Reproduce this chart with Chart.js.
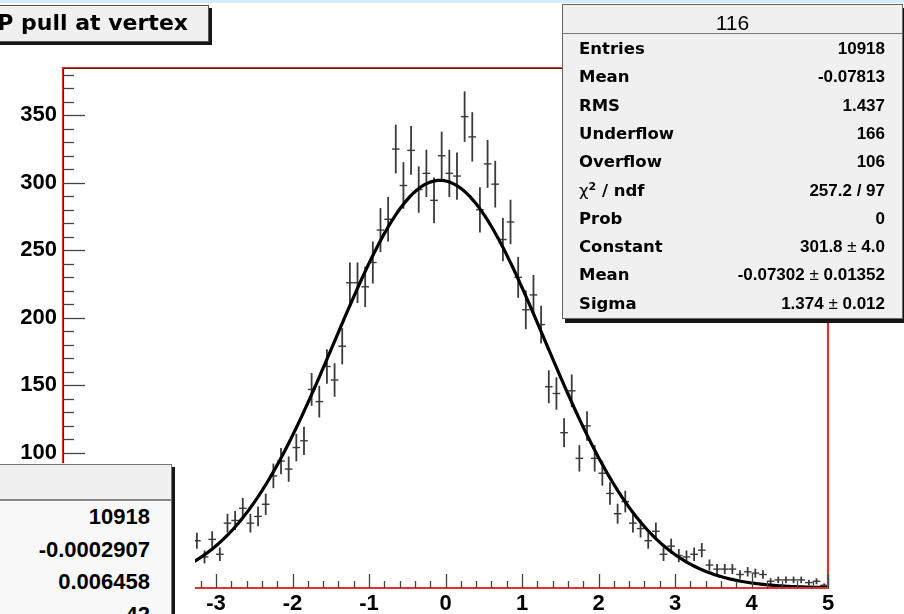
<!DOCTYPE html>
<html>
<head>
<meta charset="utf-8">
<script src="https://cdn.jsdelivr.net/npm/chart.js@4.4.1/dist/chart.umd.min.js"></script>
<style>
html,body{margin:0;padding:0;background:#fff;}
#wrap{position:relative;width:904px;height:614px;overflow:hidden;background:#fff;}
#c{position:absolute;left:0;top:0;}
.ov{position:absolute;box-sizing:border-box;}
#band{left:0;top:0;width:904px;height:3px;background:#d6eaf8;}
#title{left:-12px;top:5px;width:221px;height:37px;background:#f0f0f0;border:1px solid #555;
  box-shadow:3px 3px 0 #151515;font:bold 22px "DejaVu Sans",sans-serif;color:#000;
  text-align:right;padding-right:20px;line-height:33px;white-space:nowrap;}
#stats{left:562px;top:4px;width:341px;height:315px;background:#f0f0f0;border:1px solid #666;
  box-shadow:3px 4px 0 #151515;}
#stats .hdr{position:absolute;left:0;right:0;top:6px;height:24px;text-align:center;
  font:21px "Liberation Sans",Arial,sans-serif;line-height:24px;color:#000;}
#stats .sep{position:absolute;left:0;right:0;top:28px;height:0;border-top:1.5px solid #777;}
.row{position:absolute;height:20px;line-height:20px;color:#000;white-space:nowrap;}
#stats .row{left:16px;right:17px;}
.lab{position:absolute;left:0;top:0;font:bold 16.5px "DejaVu Sans",sans-serif;}
.val{position:absolute;right:0;top:0;font:bold 17px "Liberation Sans",Arial,sans-serif;}
.pm{font-weight:normal;}
.chi{font-weight:normal;font-family:"DejaVu Sans",sans-serif;}
.lab sup{font-size:11px;line-height:0;}
#mask{left:0;top:463px;width:195px;height:151px;background:#fff;}
#stats2{left:-3px;top:464px;width:175px;height:200px;background:#f8f8f8;border:1px solid #777;
  box-shadow:3px 3px 0 #151515;}
#stats2 .hdr{position:absolute;left:0;right:0;top:0;height:34px;background:#f0f0f0;border-bottom:2px solid #888;}
#stats2 .row{left:0;right:21px;height:24px;line-height:24px;}
#stats2 .val{font-size:22px;}
</style>
</head>
<body>
<div id="wrap">
  <canvas id="c" width="904" height="614"></canvas>
  <div class="ov" id="band"></div>
  <div class="ov" id="title">P pull at vertex</div>
  <div class="ov" id="stats"><div class="hdr">116</div><div class="sep"></div></div>
  <div class="ov" id="mask"></div>
  <div class="ov" id="stats2"><div class="hdr"></div></div>
</div>
<script>
// Histogram contents: bin centres (width 0.1) and entries per bin
const binCenters = [
  -3.25,-3.15,-3.05,-2.95,-2.85,-2.75,-2.65,-2.55,-2.45,-2.35,
  -2.25,-2.15,-2.05,-1.95,-1.85,-1.75,-1.65,-1.55,-1.45,-1.35,
  -1.25,-1.15,-1.05,-0.95,-0.85,-0.75,-0.65,-0.55,-0.45,-0.35,
  -0.25,-0.15,-0.05, 0.05, 0.15, 0.25, 0.35, 0.45, 0.55, 0.65,
   0.75, 0.85, 0.95, 1.05, 1.15, 1.25, 1.35, 1.45, 1.55, 1.65,
   1.75, 1.85, 1.95, 2.05, 2.15, 2.25, 2.35, 2.45, 2.55, 2.65,
   2.75, 2.85, 2.95, 3.05, 3.15, 3.25, 3.35, 3.45, 3.55, 3.65,
   3.75, 3.85, 3.95, 4.05, 4.15, 4.25, 4.35, 4.45, 4.55, 4.65,
   4.75, 4.85, 4.95
];
const counts = [
   35, 23, 36, 25, 48, 50, 59, 48, 53, 62,
   83, 94, 88,104,109,147,138,164,154,179,
  226,226,223,241,265,273,325,298,324,295,
  307,287,320,307,305,349,334,280,314,299,
  258,271,230,206,217,195,149,144,115,146,
   96,120, 96, 85, 70, 55, 64, 48, 44, 35,
   42, 25, 31, 24, 23, 25, 28, 17, 14, 14,
   14, 10, 12, 11, 10,  5,  6,  6,  6,  6,
    4,  5,  2
];
const binWidth = 0.1;

// Gaussian fit result
const fitConstant = 301.8, fitConstantErr = '4.0';
const fitMean = -0.07302, fitMeanErr = '0.01352';
const fitSigma = 1.374, fitSigmaErr = '0.012';

// Axis ranges and tick steps
const xRange = [-5, 5];
const yRange = [0, 385];
const xMajorStep = 1, xMinorStep = 0.2;
const yMajorStep = 50, yMinorStep = 10;

// Statistics boxes
const statLabels = ['Entries','Mean','RMS','Underflow','Overflow','chi2','Prob','Constant','Mean','Sigma'];
const statValues = ['10918','-0.07813','1.437','166','106','257.2 / 97','0',
  fitConstant.toFixed(1) + ' \u00b1 ' + fitConstantErr,
  fitMean.toFixed(5) + ' \u00b1 ' + fitMeanErr,
  fitSigma.toFixed(3) + ' \u00b1 ' + fitSigmaErr];
const otherStatValues = ['10918','-0.0002907','0.006458','42'];

function fillStats() {
  const box = document.getElementById('stats');
  statLabels.forEach((lab, i) => {
    const row = document.createElement('div');
    row.className = 'row';
    row.style.top = (34 + i * 28.3) + 'px';
    const l = document.createElement('span');
    l.className = 'lab';
    if (lab === 'chi2') l.innerHTML = '<span class="chi">\u03c7</span><sup>2</sup> / ndf';
    else l.textContent = lab;
    const v = document.createElement('span');
    v.className = 'val';
    v.innerHTML = statValues[i].replace('\u00b1', '<span class="pm">\u00b1</span>');
    row.appendChild(l); row.appendChild(v);
    box.appendChild(row);
  });
  const box2 = document.getElementById('stats2');
  otherStatValues.forEach((val, i) => {
    const row = document.createElement('div');
    row.className = 'row';
    row.style.top = (39 + i * 32.7) + 'px';
    const v = document.createElement('span');
    v.className = 'val';
    v.textContent = val;
    row.appendChild(v);
    box2.appendChild(row);
  });
}
fillStats();

const histPoints = binCenters.map((x, i) => ({x: x, y: counts[i]}));
const fitPoints = [];
for (let i = 0; i <= 500; i++) {
  const x = xRange[0] + (xRange[1] - xRange[0]) * i / 500;
  const z = (x - fitMean) / fitSigma;
  fitPoints.push({x: x, y: fitConstant * Math.exp(-0.5 * z * z)});
}

// Error bars (sqrt(N)) and bin-width markers, under the fit curve
const errorBars = {
  id: 'errorBars',
  beforeDatasetsDraw(chart) {
    const {ctx, scales: {x, y}, chartArea: a} = chart;
    ctx.save();
    ctx.beginPath(); ctx.rect(a.left, a.top, a.right - a.left, a.bottom - a.top); ctx.clip();
    ctx.strokeStyle = '#3a3a3a';
    histPoints.forEach(p => {
      const e = Math.sqrt(p.y);
      const px = x.getPixelForValue(p.x);
      ctx.lineWidth = 1.8;
      ctx.beginPath();
      ctx.moveTo(px, y.getPixelForValue(p.y - e));
      ctx.lineTo(px, y.getPixelForValue(p.y + e));
      ctx.stroke();
      const py = y.getPixelForValue(p.y);
      ctx.lineWidth = 1.4;
      ctx.beginPath();
      ctx.moveTo(x.getPixelForValue(p.x - binWidth / 2), py);
      ctx.lineTo(x.getPixelForValue(p.x + binWidth / 2), py);
      ctx.stroke();
    });
    ctx.restore();
  },
  afterDatasetsDraw(chart) {
    const {ctx, scales: {x, y}, chartArea: a} = chart;
    ctx.save();
    // frame
    ctx.lineWidth = 2.2;
    ctx.strokeStyle = '#e2302c';
    ctx.beginPath();
    ctx.moveTo(a.left, a.top); ctx.lineTo(a.right, a.top);
    ctx.lineTo(a.right, a.bottom); ctx.lineTo(a.left, a.bottom); ctx.closePath();
    ctx.stroke();
    ctx.lineWidth = 1;
    ctx.strokeStyle = '#5a1a1a';
    ctx.beginPath();
    ctx.moveTo(a.left + 0.5, a.bottom); ctx.lineTo(a.left + 0.5, a.top + 0.5); ctx.lineTo(a.right, a.top + 0.5);
    ctx.stroke();
    // y ticks pointing into the frame
    ctx.strokeStyle = '#444';
    ctx.lineWidth = 1.3;
    for (let v = yRange[0]; v <= yRange[1]; v += yMinorStep) {
      const py = Math.round(y.getPixelForValue(v)) + 0.5;
      const len = (v % yMajorStep === 0) ? 22 : 11;
      ctx.beginPath(); ctx.moveTo(a.left, py); ctx.lineTo(a.left + len, py); ctx.stroke();
    }
    // x ticks pointing up from the axis
    const nMinor = Math.round((xRange[1] - xRange[0]) / xMinorStep);
    for (let k = 0; k <= nMinor; k++) {
      const v = xRange[0] + k * xMinorStep;
      const px = Math.round(x.getPixelForValue(v)) + 0.5;
      const major = k % Math.round(xMajorStep / xMinorStep) === 0;
      const len = major ? 14 : 7;
      ctx.beginPath(); ctx.moveTo(px, a.bottom); ctx.lineTo(px, a.bottom - len); ctx.stroke();
    }
    ctx.restore();
  }
};

const tickFont = {family: 'Liberation Sans', weight: 'bold', size: 22};

new Chart(document.getElementById('c'), {
  type: 'scatter',
  data: {
    datasets: [
      {label: 'gaus', type: 'line', data: fitPoints, borderColor: '#000', borderWidth: 3.2,
       pointRadius: 0, tension: 0, fill: false, order: 0},
      {label: 'pull', data: histPoints, pointRadius: 0, showLine: false, order: 1}
    ]
  },
  options: {
    responsive: false,
    animation: false,
    devicePixelRatio: 1,
    layout: {padding: {left: 0, top: 68, right: 76, bottom: 0}},
    plugins: {legend: {display: false}, tooltip: {enabled: false}},
    scales: {
      x: {
        type: 'linear', min: xRange[0], max: xRange[1],
        afterFit(s) { s.height = 26; },
        grid: {display: false, drawTicks: false, tickLength: 0},
        border: {display: false},
        ticks: {stepSize: xMajorStep, includeBounds: false, autoSkip: false, maxRotation: 0,
                color: '#000', font: tickFont, padding: 3, callback: v => String(v)}
      },
      y: {
        type: 'linear', min: yRange[0], max: yRange[1],
        afterFit(s) { s.width = 63; },
        grid: {display: false, drawTicks: false, tickLength: 0},
        border: {display: false},
        ticks: {stepSize: yMajorStep, includeBounds: false, autoSkip: false,
                color: '#000', font: tickFont, padding: 6, callback: v => String(v)}
      }
    }
  },
  plugins: [errorBars]
});
</script>
</body>
</html>
